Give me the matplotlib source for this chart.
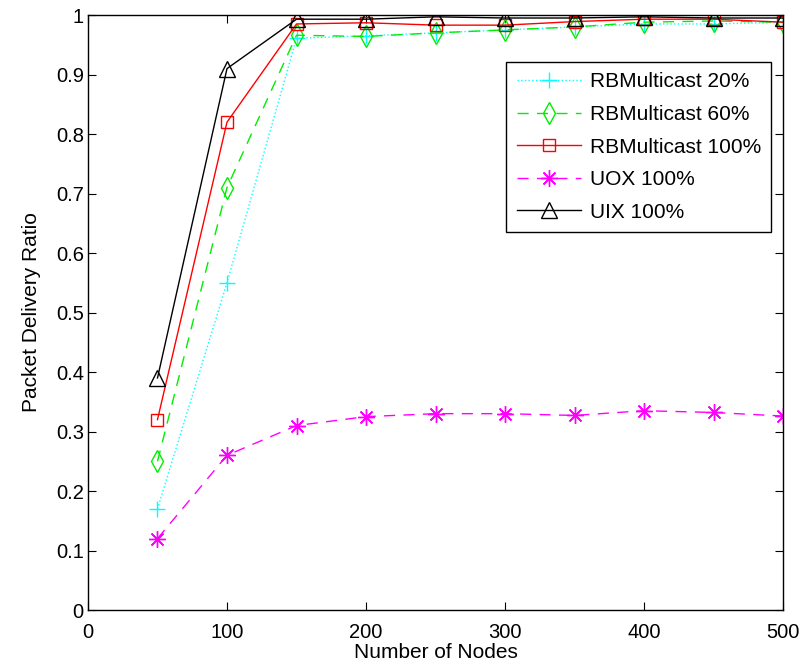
import matplotlib.pyplot as plt

plt.rcParams['font.family'] = ['Liberation Sans', 'DejaVu Sans']

# number of nodes
nodes = [50, 100, 150, 200, 250, 300, 350, 400, 450, 500]

# packet delivery ratio per scheme
rb20 = [0.17, 0.55, 0.961, 0.965, 0.970, 0.975, 0.980, 0.985, 0.985, 0.988]
rb60 = [0.25, 0.71, 0.966, 0.964, 0.970, 0.975, 0.980, 0.988, 0.990, 0.988]
rb100 = [0.32, 0.82, 0.985, 0.987, 0.983, 0.983, 0.989, 0.993, 0.993, 0.988]
uox100 = [0.12, 0.26, 0.31, 0.325, 0.33, 0.33, 0.327, 0.335, 0.332, 0.326]
uix100 = [0.39, 0.91, 0.993, 0.993, 0.997, 0.995, 0.995, 0.997, 0.995, 0.995]

fig = plt.figure(figsize=(8.11, 6.71), dpi=100)
ax = fig.add_axes([0.1085, 0.0909, 0.857, 0.8867])

# asterisk like matlab's '*': plus and cross overlaid
asterisk = (8, 2, 0)

ax.plot(nodes, rb20, color='#00ffff', linestyle=':', linewidth=1,
        marker='+', markersize=12, markeredgewidth=1, label='RBMulticast 20%')
ax.plot(nodes, rb60, color='#00ee00', linestyle='--', linewidth=1, dashes=(8, 6),
        marker='d', markersize=11, markerfacecolor='none', markeredgewidth=1,
        label='RBMulticast 60%')
ax.plot(nodes, rb100, color='#ff0000', linestyle='-', linewidth=1,
        marker='s', markersize=9, markerfacecolor='none', markeredgewidth=1,
        label='RBMulticast 100%')
ax.plot(nodes, uox100, color='#ff00ff', linestyle='--', linewidth=1, dashes=(8, 6),
        marker=asterisk, markersize=12, markeredgewidth=1,
        label='UOX 100%')
ax.plot(nodes, uix100, color='#000000', linestyle='-', linewidth=1,
        marker='^', markersize=11, markerfacecolor='none', markeredgewidth=1,
        label='UIX 100%')

ax.set_xlim(0, 500)
ax.set_ylim(0, 1)
ax.set_xticks([0, 100, 200, 300, 400, 500])
ax.set_yticks([i / 10 for i in range(11)])
ax.set_yticklabels(['0', '0.1', '0.2', '0.3', '0.4', '0.5', '0.6', '0.7', '0.8', '0.9', '1'])
ax.tick_params(direction='in', top=True, right=True, length=6, labelsize=14.5)
ax.tick_params(axis='x', pad=9)
ax.tick_params(axis='y', pad=3)
for s in ax.spines.values():
    s.set_linewidth(1)

ax.set_xlabel('Number of Nodes', fontsize=15, labelpad=1)
ax.set_ylabel('Packet Delivery Ratio', fontsize=15, labelpad=11)

leg = ax.legend(loc='upper right', bbox_to_anchor=(0.983, 0.921), borderaxespad=0,
                fontsize=15, fancybox=False, framealpha=1, edgecolor='black',
                handlelength=3.1, borderpad=0.5, labelspacing=0.65,
                handletextpad=0.4)
leg.get_frame().set_linewidth(1)

fig.savefig('out.png', dpi=100)
